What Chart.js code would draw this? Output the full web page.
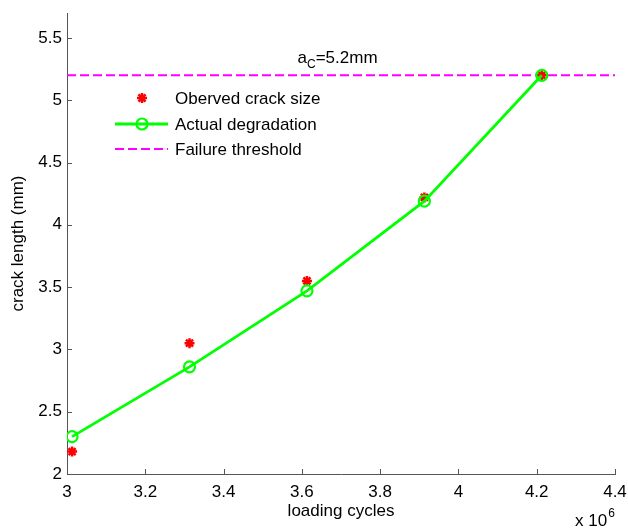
<!DOCTYPE html>
<html>
<head>
<meta charset="utf-8">
<script src="https://cdn.jsdelivr.net/npm/chart.js@4.4.1/dist/chart.umd.min.js"></script>
<style>
  html, body { margin: 0; padding: 0; background: #fff; }
</style>
</head>
<body>
<canvas id="grafico" width="628" height="530"></canvas>
<script>
// dados (ciclos em x 10^6)
const ciclos = [3.013, 3.313, 3.613, 3.913, 4.213];
const observado = [2.18, 3.05, 3.55, 4.22, 5.2];
const degradacao = [2.30, 2.86, 3.47, 4.19, 5.2];
const limiarX = [3, 4.4];
const limiarY = [5.2, 5.2];
const rotulos = ["Oberved crack size", "Actual degradation", "Failure threshold"];
const anotacao = { x: 3.589, y: 5.3 };

const FONTE = "'Liberation Sans', Arial, Helvetica, sans-serif";
const COR_EIXO = "#555";

const pares = (xs, ys) => xs.map((x, i) => ({ x: x, y: ys[i] }));

// ticks para dentro, estilo matlab + textos extras
const extras = {
    id: 'extras',
    afterDraw(chart) {
        const ctx = chart.ctx;
        const xs = chart.scales.x, ys = chart.scales.y;
        const area = chart.chartArea;
        ctx.save();
        ctx.strokeStyle = COR_EIXO;
        ctx.lineWidth = 1;
        ctx.beginPath();
        xs.ticks.forEach(t => {
            const px = Math.round(xs.getPixelForValue(t.value)) + 0.5;
            ctx.moveTo(px, area.bottom);
            ctx.lineTo(px, area.bottom - 5);
        });
        ys.ticks.forEach(t => {
            const py = Math.round(ys.getPixelForValue(t.value)) + 0.5;
            ctx.moveTo(area.left, py);
            ctx.lineTo(area.left + 5, py);
        });
        ctx.stroke();

        // a_C = 5.2mm
        ctx.fillStyle = "#000";
        ctx.textBaseline = "alphabetic";
        ctx.textAlign = "left";
        let ax = xs.getPixelForValue(anotacao.x);
        let ay = ys.getPixelForValue(anotacao.y);
        ctx.font = "17px " + FONTE;
        ctx.fillText("a", ax, ay);
        ax += ctx.measureText("a").width;
        ctx.font = "12px " + FONTE;
        ctx.fillText("C", ax, ay + 5);
        ax += ctx.measureText("C").width;
        ctx.font = "17px " + FONTE;
        ctx.fillText("=5.2mm", ax, ay);

        // x 10^6
        ctx.font = "17px " + FONTE;
        ctx.fillText("x 10", 575, 526);
        const w = ctx.measureText("x 10").width;
        ctx.font = "12px " + FONTE;
        ctx.fillText("6", 575 + w + 1, 517);

        // legenda
        const ds = chart.data.datasets;
        const linhas = [98, 124, 149];
        ctx.font = "17px " + FONTE;
        ctx.textBaseline = "middle";
        linhas.forEach((y, i) => {
            ctx.fillStyle = "#000";
            ctx.fillText(rotulos[i], 175, y + 1);
        });
        // amostra: degradacao
        ctx.strokeStyle = ds[1].borderColor;
        ctx.fillStyle = 'rgba(0,0,0,0)';
        ctx.lineWidth = ds[1].borderWidth;
        ctx.beginPath();
        ctx.moveTo(115, linhas[1]);
        ctx.lineTo(168, linhas[1]);
        ctx.stroke();
        ctx.lineWidth = ds[1].pointBorderWidth;
        Chart.helpers.drawPoint(ctx, {
            pointStyle: 'circle', radius: ds[1].pointRadius, borderWidth: ds[1].pointBorderWidth
        }, 142, linhas[1]);
        // amostra: limiar
        ctx.strokeStyle = ds[2].borderColor;
        ctx.lineWidth = ds[2].borderWidth;
        ctx.setLineDash(ds[2].borderDash);
        ctx.beginPath();
        ctx.moveTo(115, linhas[2]);
        ctx.lineTo(168, linhas[2]);
        ctx.stroke();
        ctx.setLineDash([]);
        // amostra: observado
        ctx.strokeStyle = ds[0].borderColor;
        ctx.fillStyle = ds[0].backgroundColor;
        ctx.lineWidth = ds[0].borderWidth;
        Chart.helpers.drawPoint(ctx, {
            pointStyle: ds[0].pointStyle, radius: ds[0].pointRadius, borderWidth: ds[0].borderWidth
        }, 142, linhas[0]);
        ctx.restore();
    }
};

const ctx = document.getElementById('grafico').getContext('2d');
const grafico = new Chart(ctx, {
    type: 'scatter',
    data: {
        datasets: [{
            label: rotulos[0],
            data: pares(ciclos, observado),
            pointStyle: 'star',
            pointRadius: 5,
            borderWidth: 2.5,
            borderColor: '#ff0000',
            backgroundColor: '#ff0000',
            showLine: false,
            order: 2
        }, {
            label: rotulos[1],
            data: pares(ciclos, degradacao),
            showLine: true,
            borderColor: '#00ff00',
            backgroundColor: 'rgba(0,0,0,0)',
            borderWidth: 2.8,
            pointStyle: 'circle',
            pointRadius: 5.5,
            pointBorderWidth: 2.2,
            pointBorderColor: '#00ff00',
            pointBackgroundColor: 'rgba(0,0,0,0)',
            tension: 0,
            order: 1
        }, {
            label: rotulos[2],
            data: pares(limiarX, limiarY),
            showLine: true,
            borderColor: '#ff00ff',
            borderWidth: 2,
            borderDash: [9, 4],
            pointRadius: 0,
            order: 3
        }]
    },
    options: {
        responsive: false,
        animation: false,
        layout: { padding: { top: 13, right: 13, left: 0, bottom: 0 } },
        plugins: { legend: { display: false }, tooltip: { enabled: false } },
        scales: {
            x: {
                type: 'linear',
                min: 3, max: 4.4,
                afterFit: s => { s.height = 56; s.paddingLeft = 0; s.paddingRight = 0; },
                grid: { display: false, drawTicks: false },
                border: { display: true, color: COR_EIXO, width: 1 },
                ticks: {
                    stepSize: 0.2, includeBounds: false, padding: 8,
                    color: '#000', font: { family: FONTE, size: 17 },
                    maxRotation: 0, autoSkip: false,
                    callback: v => Number(v.toFixed(1)).toString()
                },
                title: {
                    display: true, text: 'loading cycles', color: '#000',
                    font: { family: FONTE, size: 17 }, padding: { top: 0, bottom: 8 }
                }
            },
            y: {
                type: 'linear',
                min: 2, max: 5.7,
                afterFit: s => { s.width = 67; s.paddingTop = 0; s.paddingBottom = 0; },
                grid: { display: false, drawTicks: false },
                border: { display: true, color: COR_EIXO, width: 1 },
                ticks: {
                    stepSize: 0.5, includeBounds: false, padding: 5,
                    color: '#000', font: { family: FONTE, size: 17 },
                    callback: v => Number(v.toFixed(1)).toString()
                },
                title: {
                    display: true, text: 'crack length (mm)', color: '#000',
                    font: { family: FONTE, size: 17 }, padding: { top: 8, bottom: 0 }
                }
            }
        }
    },
    plugins: [extras]
});
</script>
</body>
</html>
